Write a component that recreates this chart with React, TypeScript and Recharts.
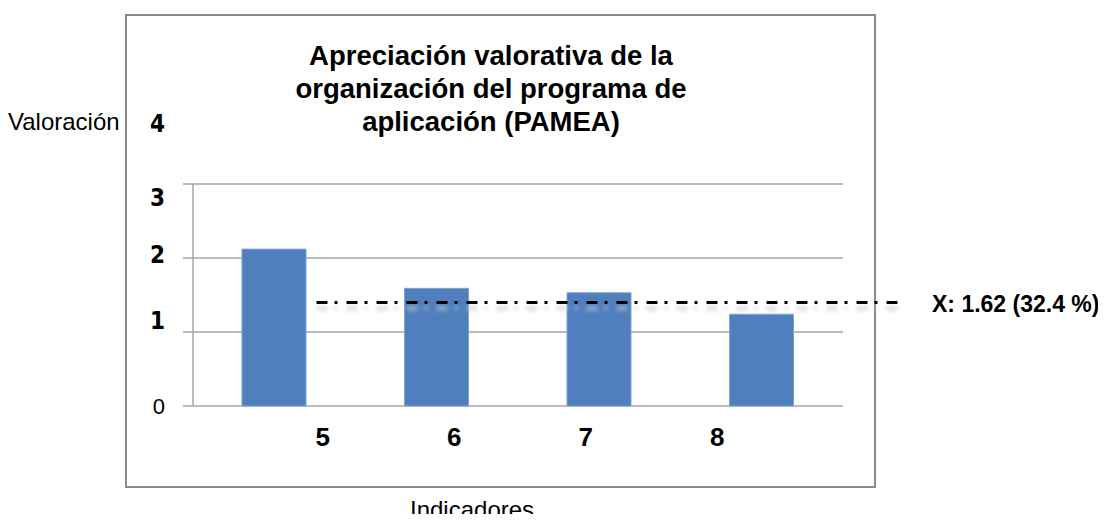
import React from 'react';
import { BarChart, Bar, XAxis, YAxis, CartesianGrid, ReferenceLine } from 'recharts';

const indicators = ['5', '6', '7', '8'];
const valores = [2.12, 1.59, 1.53, 1.24];
const yTicks = [0, 1, 2, 3];
const titleLines = ['Apreciación valorativa de la', 'organización del programa de', 'aplicación (PAMEA)'];
const meanLabel = 'X: 1.62 (32.4 %)';
// where the dash-dot line sits in the picture, and its span on the hidden index axis (0 = left edge, 3 = right edge of the plot)
const meanLine = 1.4;
const meanSpan = [0.57, 3.26];

const data = indicators.map((name, i) => ({ name, valor: valores[i] }));

const gray = '#a6a6a6';
const narrow = "'Liberation Sans Narrow', 'DejaVu Sans Condensed', 'Liberation Sans', sans-serif";
const arial = "'Liberation Sans', Arial, sans-serif";

// the tick labels in the original sit a little off their gridlines
const tickShift: Record<number, number> = { 0: 0, 1: -12, 2: -4, 3: 13 };

const YTick = (props: any) => {
  const { x, y, payload } = props;
  const zero = payload.value === 0;
  return (
    <text
      x={x}
      y={y + (tickShift[payload.value] || 0)}
      dy="0.36em"
      textAnchor="end"
      fill="#000"
      fontFamily={zero ? arial : narrow}
      fontWeight={zero ? 400 : 700}
      fontSize={zero ? 22 : 24}
    >
      {payload.value}
    </text>
  );
};

export default function App() {
  return (
    <div style={{ position: 'relative', width: 1106, height: 522, margin: -8, background: '#fff', fontFamily: arial, overflow: 'hidden' }}>
      <div style={{ position: 'absolute', left: 125, top: 14, width: 751, height: 474, border: '2px solid #8a8a8a', boxSizing: 'border-box' }} />

      <div style={{ position: 'absolute', left: 241, top: 39, width: 500, textAlign: 'center', fontSize: 27.5, lineHeight: '33px', fontWeight: 700, color: '#000' }}>
        {titleLines.map((l) => (
          <div key={l}>{l}</div>
        ))}
      </div>

      <div style={{ position: 'absolute', left: 8, top: 109, fontSize: 24, lineHeight: '26px', color: '#000' }}>Valoración</div>
      <div style={{ position: 'absolute', left: 125, width: 40, textAlign: 'right', top: 111, fontSize: 24, lineHeight: '26px', fontWeight: 700, fontFamily: narrow, color: '#000' }}>4</div>
      <div style={{ position: 'absolute', left: 410, top: 497, fontSize: 24, lineHeight: '26px', color: '#000' }}>Indicadores</div>
      <div style={{ position: 'absolute', left: 932, top: 291, fontSize: 23, lineHeight: '26px', fontWeight: 700, color: '#000', whiteSpace: 'nowrap' }}>{meanLabel}</div>

      <div style={{ position: 'absolute', left: 0, top: 0 }}>
        <BarChart width={1106} height={522} data={data} margin={{ top: 184, right: 263, bottom: 76, left: 153 }}>
          <CartesianGrid vertical={false} stroke={gray} strokeWidth={1.5} />
          <XAxis dataKey="name" hide height={0} />
          <XAxis
            xAxisId="lbl"
            dataKey="name"
            height={40}
            padding={{ left: 64, right: 60 }}
            axisLine={false}
            tickLine={false}
            tickSize={0}
            tickMargin={22}
            tick={{ fill: '#000', fontSize: 26, fontWeight: 700, fontFamily: arial }}
            interval={0}
          />
          <XAxis xAxisId="ref" type="number" hide height={0} />
          <YAxis
            width={40}
            domain={[0, 3]}
            ticks={yTicks}
            interval={0}
            axisLine={{ stroke: gray, strokeWidth: 1.5 }}
            tickLine={{ stroke: gray, strokeWidth: 1.5 }}
            tickSize={10}
            tickMargin={18}
            tick={<YTick />}
          />
          <Bar dataKey="valor" fill="#4f7fbd" stroke="#7fa3d2" strokeWidth={1} barSize={64} isAnimationActive={false} />
          <ReferenceLine
            xAxisId="ref"
            segment={[{ x: meanSpan[0], y: meanLine - 0.08 }, { x: meanSpan[1], y: meanLine - 0.08 }]}
            stroke="#c8c8c8"
            strokeWidth={5}
            strokeDasharray="11 7 3 9"
            strokeOpacity={0.6}
            ifOverflow="visible"
            style={{ filter: 'blur(2px)' }}
          />
          <ReferenceLine
            xAxisId="ref"
            segment={[{ x: meanSpan[0], y: meanLine }, { x: meanSpan[1], y: meanLine }]}
            stroke="#000"
            strokeWidth={3}
            strokeDasharray="11 7 3 9"
            ifOverflow="visible"
          />
        </BarChart>
      </div>
    </div>
  );
}
